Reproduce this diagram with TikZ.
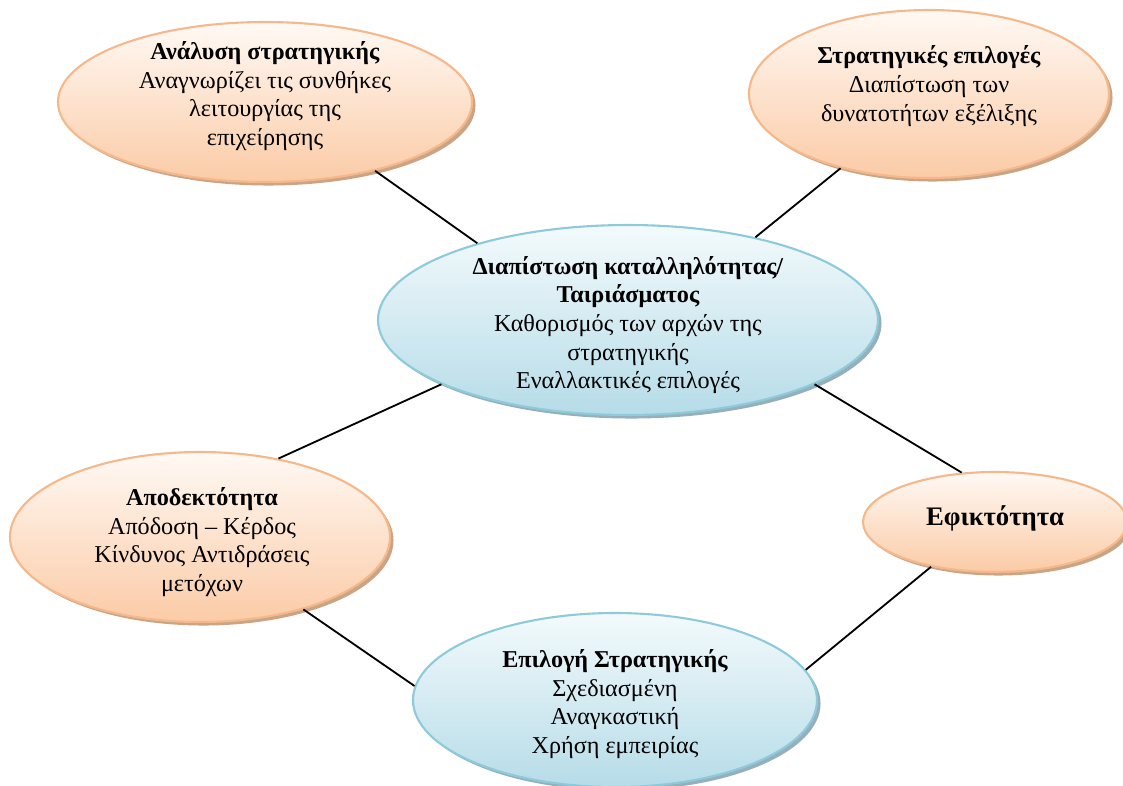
\documentclass[tikz,border=0pt]{standalone}
\usepackage{fontspec}
\setmainfont{Liberation Serif}
\usepackage{tikz}
\usetikzlibrary{shapes.geometric, shadows, positioning}
\usepackage{xcolor}

\definecolor{peachline}{HTML}{F6B88A}
\definecolor{peachtop}{HTML}{FFF9F4}
\definecolor{peachbot}{HTML}{FBCBA6}
\definecolor{peachshadow}{HTML}{C49B78}
\definecolor{skyline}{HTML}{8DCADB}
\definecolor{skytop}{HTML}{F3FAFC}
\definecolor{skybot}{HTML}{B6DCE8}
\definecolor{skyshadow}{HTML}{8AA7B3}

\tikzset{
  bubble/.style={ellipse, inner sep=0pt, line width=1.5pt},
  warm/.style={bubble, draw=peachline, top color=peachtop, bottom color=peachbot,
    drop shadow={shadow xshift=2.5pt, shadow yshift=-2.5pt, fill=peachshadow, opacity=0.9}},
  cool/.style={bubble, draw=skyline, top color=skytop, bottom color=skybot,
    drop shadow={shadow xshift=2.5pt, shadow yshift=-2.5pt, fill=skyshadow, opacity=0.9}},
  txt/.style={align=center, inner sep=0pt, font=\fontsize{17.2}{20.4}\selectfont},
  link/.style={draw=black, line width=1.3pt}
}

\begin{document}
\begin{tikzpicture}[x=0.025cm, y=-0.025cm]
  \useasboundingbox (0,0) rectangle (1123,785);
  % Ellipses
  \node[warm, minimum width=414*0.025cm, minimum height=160*0.025cm] (analysis) at (265,102) {};
  \node[warm, minimum width=360*0.025cm, minimum height=168*0.025cm] (choices) at (929,94) {};
  \node[cool, minimum width=500*0.025cm, minimum height=190*0.025cm] (fit) at (628,320) {};
  \node[warm, minimum width=380*0.025cm, minimum height=170*0.025cm] (accept) at (200,537) {};
  \node[warm, minimum width=264*0.025cm, minimum height=100*0.025cm] (feasible) at (995,522) {};
  \node[cool, minimum width=404*0.025cm, minimum height=174*0.025cm] (select) at (615,700) {};
  % Texts
  \node[txt] (analysis-t) at (265,96) {\textbf{Ανάλυση στρατηγικής}\\Αναγνωρίζει τις συνθήκες\\λειτουργίας της\\επιχείρησης};
  \node[txt] (choices-t) at (929,86) {\textbf{Στρατηγικές επιλογές}\\Διαπίστωση των\\δυνατοτήτων εξέλιξης};
  \node[txt] (fit-t) at (628,325) {\textbf{Διαπίστωση καταλληλότητας/}\\\textbf{Ταιριάσματος}\\Καθορισμός των αρχών της\\στρατηγικής\\Εναλλακτικές επιλογές};
  \node[txt] (accept-t) at (202,542) {\textbf{Αποδεκτότητα}\\Απόδοση – Κέρδος\\Κίνδυνος Αντιδράσεις\\μετόχων};
  \node[txt, font=\fontsize{19}{23}\selectfont] (feasible-t) at (995,518) {\textbf{Εφικτότητα}};
  \node[txt] (select-t) at (615,704) {\textbf{Επιλογή Στρατηγικής}\\Σχεδιασμένη\\Αναγκαστική\\Χρήση εμπειρίας};
  % Connectors
  \draw[link] (analysis.-32) -- (fit.153);
  \draw[link] (choices.220) -- (fit.33);
  \draw[link] (fit.199) -- (accept.45);
  \draw[link] (fit.341) -- (feasible.124);
  \draw[link] (accept.325) -- (select.176);
  \draw[link] (feasible.215) -- (select.9);
\end{tikzpicture}
\end{document}
